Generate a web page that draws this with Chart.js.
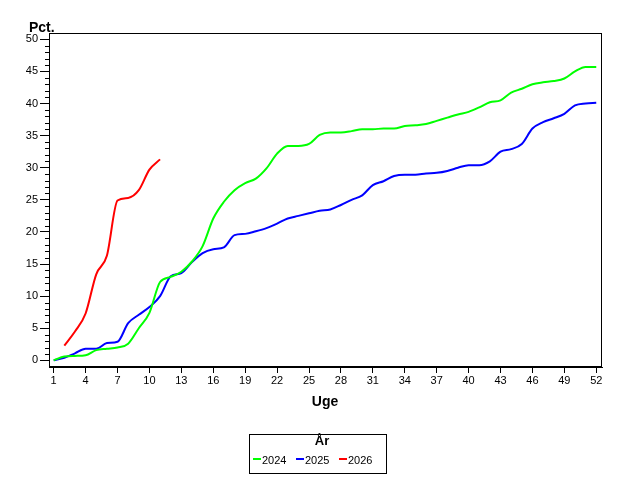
<!DOCTYPE html>
<html>
<head>
<meta charset="utf-8">
<script src="https://cdn.jsdelivr.net/npm/chart.js@4/dist/chart.umd.min.js"></script>
<style>
  html, body { margin: 0; padding: 0; background: #fff; }
</style>
</head>
<body>
<canvas id="chart" width="640" height="480"></canvas>
<script>
// week numbers (x categories)
const weeks = [1, 2, 3, 4, 5, 6, 7, 8, 9, 10, 11, 12, 13, 14, 15, 16, 17, 18, 19, 20,
  21, 22, 23, 24, 25, 26, 27, 28, 29, 30, 31, 32, 33, 34, 35, 36, 37, 38, 39, 40,
  41, 42, 43, 44, 45, 46, 47, 48, 49, 50, 51, 52];
const weeks2026 = [2, 3, 4, 5, 6, 7, 8, 9, 10, 11];

// cumulative pct per year
const pct2024 = [0.0, 0.6, 0.7, 0.8, 1.6, 1.8, 2.0, 2.6, 5.0, 7.4,
  12.2, 13.0, 13.8, 15.4, 17.8, 22.1, 24.7, 26.5, 27.6, 28.3,
  29.9, 32.2, 33.4, 33.4, 33.7, 35.1, 35.5, 35.5, 35.7, 36.0,
  36.0, 36.1, 36.1, 36.5, 36.6, 36.8, 37.3, 37.8, 38.3, 38.7,
  39.4, 40.2, 40.5, 41.7, 42.3, 43.0, 43.3, 43.5, 43.9, 45.0,
  45.7, 45.7];
const pct2025 = [0.0, 0.4, 1.1, 1.8, 1.8, 2.7, 2.9, 5.8, 7.1, 8.3,
  10.0, 13.1, 13.6, 15.3, 16.7, 17.3, 17.6, 19.5, 19.7, 20.1,
  20.6, 21.3, 22.1, 22.5, 22.9, 23.3, 23.5, 24.2, 25.0, 25.7,
  27.3, 27.9, 28.7, 28.9, 28.9, 29.1, 29.2, 29.5, 30.0, 30.4,
  30.4, 31.0, 32.5, 32.9, 33.7, 36.1, 37.1, 37.7, 38.4, 39.7,
  40.0, 40.1];
const pct2026 = [2.3, 4.5, 7.3, 13.4, 16.3, 24.9, 25.3, 26.5, 29.7, 31.3];

const xTicks = [1, 4, 7, 10, 13, 16, 19, 22, 25, 28, 31, 34, 37, 40, 43, 46, 49, 52];
const yTicks = [0, 5, 10, 15, 20, 25, 30, 35, 40, 45, 50];
const seriesNames = ['2024', '2025', '2026'];
const seriesColors = ['#00ff00', '#0000ff', '#ff0000'];

function points(xs, ys) {
  return xs.map((x, i) => ({ x: x, y: ys[i] }));
}

// box round the plot, minor y ticks, axis titles and the legend
const decor = {
  id: 'decor',
  afterDraw(chart) {
    const ctx = chart.ctx;
    const a = chart.chartArea;
    const y = chart.scales.y;
    ctx.save();
    ctx.strokeStyle = '#000';
    ctx.lineWidth = 1;
    ctx.strokeRect(a.left + 0.5, a.top + 0.5, a.right - a.left - 1, a.bottom - a.top - 1);

    ctx.beginPath();
    for (let v = 0; v <= 50; v++) {
      if (v % 5 === 0) continue;
      const py = Math.round(y.getPixelForValue(v)) + 0.5;
      ctx.moveTo(a.left - 4, py);
      ctx.lineTo(a.left, py);
    }
    ctx.stroke();

    ctx.fillStyle = '#000';
    ctx.font = 'bold 14px "Liberation Sans", Arial, sans-serif';
    ctx.textBaseline = 'alphabetic';
    ctx.textAlign = 'left';
    ctx.fillText('Pct.', 29, 32);
    ctx.textAlign = 'center';
    ctx.fillText('Uge', 325, 406);

    // legend
    ctx.strokeRect(249.5, 434.5, 137, 39);
    ctx.font = 'bold 13px "Liberation Sans", Arial, sans-serif';
    ctx.fillText('År', 322, 445);
    ctx.font = '11px "Liberation Sans", Arial, sans-serif';
    ctx.textAlign = 'left';
    const itemX = [253, 296, 339];
    seriesNames.forEach((name, i) => {
      ctx.strokeStyle = seriesColors[i];
      ctx.lineWidth = 2;
      ctx.beginPath();
      ctx.moveTo(itemX[i], 459);
      ctx.lineTo(itemX[i] + 8, 459);
      ctx.stroke();
      ctx.fillText(name, itemX[i] + 9, 464);
    });
    ctx.restore();
  }
};

const datasets = [
  { label: seriesNames[0], data: points(weeks, pct2024) },
  { label: seriesNames[1], data: points(weeks, pct2025) },
  { label: seriesNames[2], data: points(weeks2026, pct2026) }
].map((d, i) => Object.assign(d, {
  borderColor: seriesColors[i],
  backgroundColor: seriesColors[i],
  borderWidth: 2,
  pointRadius: 0,
  cubicInterpolationMode: 'monotone',
  fill: false
}));

const tickFont = { family: '"Liberation Sans", Arial, sans-serif', size: 11 };

new Chart(document.getElementById('chart'), {
  type: 'line',
  data: { datasets: datasets },
  plugins: [decor],
  options: {
    responsive: false,
    animation: false,
    devicePixelRatio: 1,
    layout: { padding: { top: 33, right: 38, left: 0, bottom: 0 } },
    plugins: {
      legend: { display: false },
      tooltip: { enabled: false }
    },
    scales: {
      x: {
        type: 'linear',
        min: 0.56,
        max: 52.54,
        afterBuildTicks: scale => { scale.ticks = xTicks.map(v => ({ value: v })); },
        afterFit: scale => { scale.height = 113; },
        grid: { drawOnChartArea: false, tickLength: 6, tickColor: '#000' },
        border: { color: '#000' },
        ticks: { color: '#000', font: tickFont, padding: 1, maxRotation: 0, autoSkip: false }
      },
      y: {
        min: -1.03,
        max: 50.98,
        afterBuildTicks: scale => { scale.ticks = yTicks.map(v => ({ value: v })); },
        afterFit: scale => { scale.width = 49; },
        grid: { drawOnChartArea: false, tickLength: 9, tickColor: '#000' },
        border: { color: '#000' },
        ticks: { color: '#000', font: tickFont, padding: 2 }
      }
    }
  }
});
</script>
</body>
</html>
